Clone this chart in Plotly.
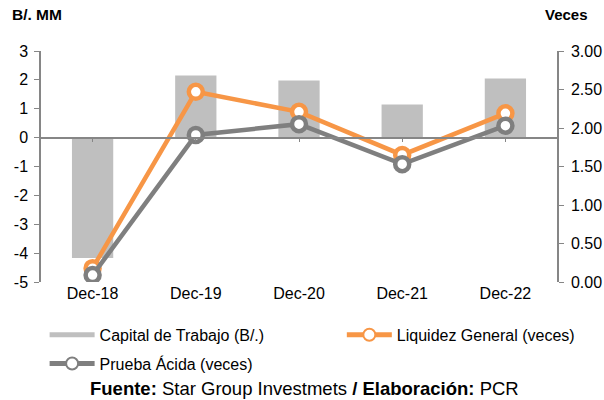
import plotly.graph_objects as go

periodos = ["Dec-18", "Dec-19", "Dec-20", "Dec-21", "Dec-22"]
capital_trabajo = [-4.17, 2.15, 1.98, 1.15, 2.05]
liquidez_general = [0.18, 2.47, 2.21, 1.65, 2.19]
prueba_acida = [0.09, 1.91, 2.05, 1.53, 2.03]

left_range = [-5, 3]
right_range = [0, 3]
y_domain = [0, 1]
left_ticks = list(range(left_range[0], left_range[1] + 1))

FONT = "Liberation Sans, Arial, sans-serif"
AXIS_GRAY = "#868686"
BAR_GRAY = "#bfbfbf"
ORANGE = "#f79646"
LINE_GRAY = "#7f7f7f"

fig = go.Figure()

fig.add_trace(go.Bar(
    x=periodos, y=capital_trabajo,
    name="Capital de Trabajo (B/.)",
    marker=dict(color=BAR_GRAY, line=dict(width=0)),
    width=0.4, yaxis="y", showlegend=False,
))

fig.add_trace(go.Scatter(
    x=periodos, y=liquidez_general,
    name="Liquidez General (veces)",
    mode="lines+markers",
    line=dict(color=ORANGE, width=4.5),
    marker=dict(size=14, color="white", line=dict(color=ORANGE, width=4.5)),
    yaxis="y2", legend="legend2",
))

fig.add_trace(go.Scatter(
    x=periodos, y=prueba_acida,
    name="Prueba Ácida (veces)",
    mode="lines+markers",
    line=dict(color=LINE_GRAY, width=4.5),
    marker=dict(size=14, color="white", line=dict(color=LINE_GRAY, width=4.5)),
    yaxis="y2", legendrank=2, legendgroup="b",
))

# legend entry for the bars drawn as a wide grey band, like the original
fig.add_trace(go.Scatter(
    x=[None], y=[None], name="Capital de Trabajo (B/.)",
    mode="lines", line=dict(color=BAR_GRAY, width=9),
    legendrank=1, legendgroup="a",
))

# category axis drawn along y = 0 of the left axis
zero_pos = y_domain[0] + (0 - left_range[0]) / (left_range[1] - left_range[0]) * (y_domain[1] - y_domain[0])

fig.add_trace(go.Scatter(
    x=periodos, y=[0] * len(periodos), xaxis="x2", yaxis="y",
    mode="markers", marker=dict(opacity=0), showlegend=False, hoverinfo="skip",
))

legend_common = dict(
    orientation="v", xanchor="left", yanchor="top",
    font=dict(size=16, family=FONT), itemwidth=45, tracegroupgap=5,
    itemsizing="constant", bgcolor="rgba(0,0,0,0)",
)

fig.update_layout(
    width=604, height=400,
    margin=dict(l=41, r=47, t=51, b=118, autoexpand=False),
    paper_bgcolor="white", plot_bgcolor="white",
    font=dict(family=FONT, size=16, color="black"),
    barmode="overlay",
    xaxis=dict(
        type="category", showgrid=False, showline=False, ticks="",
        tickfont=dict(size=16), domain=[0, 1],
    ),
    xaxis2=dict(
        type="category", overlaying="x", anchor="free", position=zero_pos,
        showgrid=False, showline=True, linecolor=AXIS_GRAY, linewidth=1.5,
        ticks="outside", ticklen=4, tickcolor=AXIS_GRAY, showticklabels=False,
        matches="x",
    ),
    yaxis=dict(
        range=left_range, tickvals=left_ticks, ticktext=[str(v) for v in left_ticks],
        domain=y_domain, showgrid=False, zeroline=False,
        showline=True, linecolor=AXIS_GRAY, linewidth=1.5,
        ticks="outside", ticklen=5, tickcolor=AXIS_GRAY,
        tickfont=dict(size=16), ticklabelstandoff=3,
    ),
    yaxis2=dict(
        range=right_range, dtick=0.5, tickformat=".2f", overlaying="y", side="right",
        showgrid=False, zeroline=False, showline=True, linecolor=AXIS_GRAY, linewidth=1.5,
        ticks="outside", ticklen=5, tickcolor=AXIS_GRAY,
        tickfont=dict(size=16), ticklabelstandoff=4,
    ),
    legend=dict(x=0.007, y=-0.155, **legend_common),
    legend2=dict(x=0.583, y=-0.155, **legend_common),
)

fig.add_annotation(
    text="<b>B/. MM</b>", xref="paper", yref="paper", x=-0.060, y=1.16,
    xanchor="left", yanchor="middle", showarrow=False, font=dict(size=15.5),
)
fig.add_annotation(
    text="<b>Veces</b>", xref="paper", yref="paper", x=1.064, y=1.16,
    xanchor="right", yanchor="middle", showarrow=False, font=dict(size=15),
)
fig.add_annotation(
    text="<b>Fuente:</b> Star Group Investmets <b>/ Elaboración:</b> PCR",
    xref="paper", yref="paper", x=0.511, y=-0.459,
    xanchor="center", yanchor="middle", showarrow=False, font=dict(size=18.5),
)

fig.write_html("out.html", config=dict(displayModeBar=False))

# drop the default page margin so the figure sits at the window's top-left corner
with open("out.html", encoding="utf-8") as f:
    page = f.read()
page = page.replace("<head>", "<head><style>body{margin:0;}</style>", 1)
with open("out.html", "w", encoding="utf-8") as f:
    f.write(page)
